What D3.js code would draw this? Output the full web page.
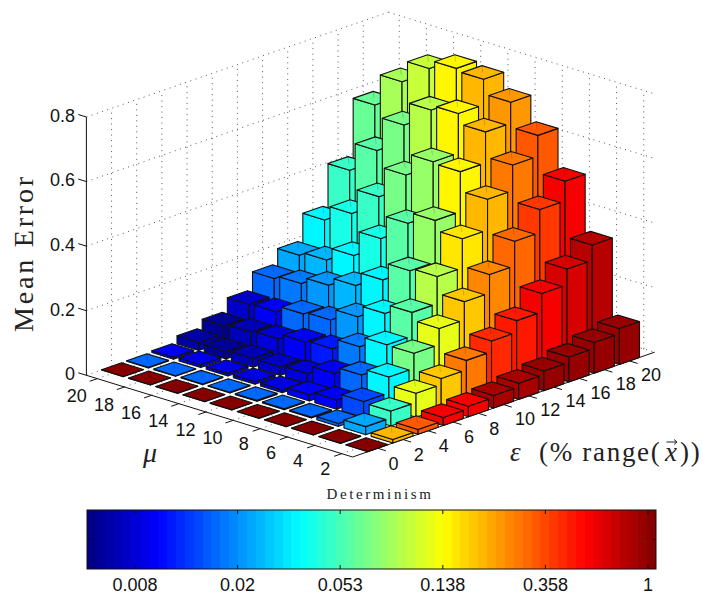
<!DOCTYPE html>
<html>
<head>
<meta charset="utf-8">
<script src="https://cdn.jsdelivr.net/npm/d3@7"></script>
<style>
  html, body { margin: 0; padding: 0; background: #fff; }
  svg { display: block; }
</style>
</head>
<body>
<svg></svg>
<script>
const epsTicks = [0, 2, 4, 6, 8, 10, 12, 14, 16, 18, 20];
const muTicks = [2, 4, 6, 8, 10, 12, 14, 16, 18, 20];
const errorTicks = [0, 0.2, 0.4, 0.6, 0.8];
const colorTicks = [0.008, 0.02, 0.053, 0.138, 0.358, 1];

// one row per mu (2 to 20), one column per eps (0 to 20)
const meanError = [
  [0.001, 0.011, 0.015, 0.025, 0.033, 0.039, 0.050, 0.061, 0.077, 0.095, 0.111],
  [0.001, 0.025, 0.046, 0.074, 0.093, 0.122, 0.155, 0.191, 0.248, 0.297, 0.344],
  [0.001, 0.009, 0.050, 0.099, 0.145, 0.195, 0.251, 0.308, 0.384, 0.455, 0.516],
  [0.001, 0.003, 0.029, 0.079, 0.146, 0.219, 0.303, 0.393, 0.488, 0.567, 0.632],
  [0.001, 0.003, 0.019, 0.058, 0.114, 0.190, 0.295, 0.424, 0.548, 0.644, 0.709],
  [0.001, 0.003, 0.009, 0.032, 0.082, 0.154, 0.241, 0.389, 0.553, 0.675, 0.754],
  [0.001, 0.002, 0.008, 0.027, 0.077, 0.118, 0.198, 0.316, 0.486, 0.660, 0.762],
  [0.001, 0.002, 0.008, 0.027, 0.061, 0.111, 0.173, 0.238, 0.393, 0.588, 0.736],
  [0.001, 0.002, 0.009, 0.022, 0.056, 0.092, 0.152, 0.198, 0.315, 0.483, 0.669],
  [0.001, 0.002, 0.006, 0.025, 0.049, 0.089, 0.142, 0.187, 0.269, 0.396, 0.571]
];

const determinism = [
  [1, 0.2178, 0.3621, 0.5564, 0.6, 0.8795, 0.89, 0.93, 0.96, 0.96, 0.98],
  [1, 0.0239, 0.0524, 0.1242, 0.196, 0.2842, 0.46, 0.4998, 0.6, 0.691, 0.7897],
  [1, 0.0166, 0.0149, 0.0379, 0.0705, 0.1242, 0.196, 0.27, 0.3252, 0.4254, 0.5564],
  [1, 0.0166, 0.0099, 0.0166, 0.035, 0.06, 0.1028, 0.1623, 0.2178, 0.2842, 0.3621],
  [1, 0.0166, 0.0092, 0.0099, 0.0184, 0.035, 0.06, 0.0829, 0.1459, 0.2178, 0.2558],
  [1, 0.0166, 0.0087, 0.008, 0.0116, 0.0216, 0.035, 0.06, 0.0829, 0.1459, 0.2178],
  [1, 0.0166, 0.0087, 0.0076, 0.0092, 0.0166, 0.0267, 0.0446, 0.0705, 0.1028, 0.1459],
  [1, 0.0166, 0.0085, 0.007, 0.008, 0.0166, 0.0216, 0.035, 0.0524, 0.0705, 0.1085],
  [1, 0.0166, 0.0085, 0.006, 0.007, 0.0099, 0.0184, 0.0267, 0.0446, 0.06, 0.0925],
  [1, 0.0166, 0.0092, 0.0063, 0.0057, 0.0076, 0.0166, 0.0239, 0.0379, 0.0524, 0.0665]
];

const width = 702;
const height = 594;
const levels = 64;
const barHalf = 0.8; // half a bar, in eps / mu units

const svg = d3.select("svg").attr("width", width).attr("height", height);

// floor corners of the box on screen
const front = { x: 352.6, y: 457 };
const right = { x: 654.6, y: 352.2 };
const left = { x: 86.4, y: 375.3 };

const epsScale = d3.scaleLinear().domain([-2, 22]).range([0, 1]);
const muScale = d3.scaleLinear().domain([1.2, 20.8]).range([0, 1]);
const zScale = d3.scaleLinear().domain([0, 0.8]).range([0, 258.3]);

const project = (eps, mu, z) => {
  const a = epsScale(eps);
  const b = muScale(mu);
  return [
    front.x + a * (right.x - front.x) + b * (left.x - front.x),
    front.y + a * (right.y - front.y) + b * (left.y - front.y) - zScale(z)
  ];
};

const [epsMin, epsMax] = epsScale.domain();
const [muMin, muMax] = muScale.domain();
const [zMin, zMax] = zScale.domain();

const jet = (x) => {
  const c = (v) => Math.round(255 * Math.max(0, Math.min(1, v)));
  const r = Math.min(4 * x - 1.5, -4 * x + 4.5);
  const g = Math.min(4 * x - 0.5, -4 * x + 3.5);
  const b = Math.min(4 * x + 0.5, -4 * x + 2.5);
  return `rgb(${c(r)},${c(g)},${c(b)})`;
};

const colorPos = d3.scaleLog().domain([0.00509, 1.08]).range([0, 1]).clamp(true);
const colorOf = (d) => {
  const level = Math.min(levels - 1, Math.floor(colorPos(d) * levels));
  return jet((level + 0.5) / levels);
};

const line = d3.line();

// grid on the two back walls and the floor
const gridLines = [];
errorTicks.forEach((z) => {
  gridLines.push([project(epsMin, muMax, z), project(epsMax, muMax, z)]);
  gridLines.push([project(epsMax, muMax, z), project(epsMax, muMin, z)]);
});
epsTicks.forEach((e) => {
  gridLines.push([project(e, muMax, zMin), project(e, muMax, zMax)]);
  gridLines.push([project(e, muMin, zMin), project(e, muMax, zMin)]);
});
muTicks.forEach((m) => {
  gridLines.push([project(epsMax, m, zMin), project(epsMax, m, zMax)]);
  gridLines.push([project(epsMin, m, zMin), project(epsMax, m, zMin)]);
});

svg.append("g").selectAll("path").data(gridLines).join("path")
  .attr("d", (d) => line(d))
  .attr("fill", "none")
  .attr("stroke", "#555")
  .attr("stroke-width", 1)
  .attr("stroke-dasharray", "1,4.5");

// axes
const axisColor = "#111";
const axisLines = [
  [project(epsMin, muMax, zMin), project(epsMin, muMax, zMax)],
  [project(epsMin, muMax, zMin), project(epsMin, muMin, zMin)],
  [project(epsMin, muMin, zMin), project(epsMax, muMin, zMin)]
];
const tickStep = 0.3;
errorTicks.forEach((z) => {
  axisLines.push([project(epsMin, muMax, z), project(epsMin, muMax + 2 * tickStep, z)]);
});
muTicks.forEach((m) => {
  axisLines.push([project(epsMin, m, zMin), project(epsMin - 2 * tickStep, m, zMin)]);
});
epsTicks.forEach((e) => {
  axisLines.push([project(e, muMin, zMin), project(e, muMin - 2 * tickStep, zMin)]);
});

svg.append("g").selectAll("path").data(axisLines).join("path")
  .attr("d", (d) => line(d))
  .attr("fill", "none")
  .attr("stroke", axisColor)
  .attr("stroke-width", 1);

// bars, far ones first
const bars = [];
muTicks.forEach((mu, i) => {
  epsTicks.forEach((eps, j) => {
    bars.push({ eps, mu, z: meanError[i][j], det: determinism[i][j] });
  });
});
bars.sort((a, b) => d3.descending(a.eps, b.eps) || d3.descending(a.mu, b.mu));

const barGroups = svg.append("g").selectAll("g").data(bars).join("g");

const barFaces = (d) => {
  const e0 = d.eps - barHalf, e1 = d.eps + barHalf;
  const m0 = d.mu - barHalf, m1 = d.mu + barHalf;
  return [
    [project(e0, m1, 0), project(e0, m0, 0), project(e0, m0, d.z), project(e0, m1, d.z)],
    [project(e0, m0, 0), project(e1, m0, 0), project(e1, m0, d.z), project(e0, m0, d.z)],
    [project(e0, m0, d.z), project(e1, m0, d.z), project(e1, m1, d.z), project(e0, m1, d.z)]
  ];
};

barGroups.selectAll("path.face").data((d) => barFaces(d).map((pts) => ({ pts, det: d.det }))).join("path")
  .attr("class", "face")
  .attr("d", (d) => line(d.pts) + "Z")
  .attr("fill", (d) => colorOf(d.det))
  .attr("stroke", "#111")
  .attr("stroke-width", 1.1)
  .attr("stroke-linejoin", "round");

// the faint seam on each top face
barGroups.append("path")
  .attr("d", (d) => line([project(d.eps + barHalf, d.mu + barHalf, d.z), project(d.eps, d.mu, d.z)]))
  .attr("stroke", "#000")
  .attr("stroke-opacity", 0.18)
  .attr("stroke-width", 1);

// tick labels
const sans = "'Liberation Sans', Arial, sans-serif";
const serif = "'Liberation Serif', 'DejaVu Serif', serif";

svg.append("g").selectAll("text").data(errorTicks).join("text")
  .attr("x", 75)
  .attr("y", (d) => project(epsMin, muMax, d)[1] - 1.5)
  .attr("dy", "0.35em")
  .attr("text-anchor", "end")
  .attr("font-family", sans)
  .attr("font-size", 18)
  .attr("fill", "#111")
  .text((d) => d);

svg.append("g").selectAll("text").data(muTicks).join("text")
  .attr("x", (d) => project(epsMin, d, 0)[0] + (d >= 10 ? -20.5 : -16.5))
  .attr("y", (d) => project(epsMin, d, 0)[1] + (d >= 10 ? 17.5 : 15.5))
  .attr("dy", "0.35em")
  .attr("text-anchor", "middle")
  .attr("font-family", sans)
  .attr("font-size", 18)
  .attr("fill", "#111")
  .text((d) => d);

svg.append("g").selectAll("text").data(epsTicks).join("text")
  .attr("x", (d) => project(d, muMin, 0)[0] + (d >= 10 ? 21.5 : 15.7))
  .attr("y", (d) => project(d, muMin, 0)[1] + (d >= 10 ? 14 : 15))
  .attr("dy", "0.35em")
  .attr("text-anchor", "middle")
  .attr("font-family", sans)
  .attr("font-size", 18)
  .attr("fill", "#111")
  .text((d) => d);

// axis titles
svg.append("text")
  .attr("transform", "translate(33,253) rotate(-90)")
  .attr("text-anchor", "middle")
  .attr("font-family", serif)
  .attr("font-size", 28)
  .attr("letter-spacing", 2.8)
  .attr("fill", "#222")
  .text("Mean Error");

svg.append("text")
  .attr("x", 150)
  .attr("y", 462)
  .attr("text-anchor", "middle")
  .attr("font-family", serif)
  .attr("font-style", "italic")
  .attr("font-size", 28)
  .attr("fill", "#222")
  .text("\u03bc");

const epsLabel = svg.append("g").attr("font-family", serif).attr("fill", "#222").attr("font-size", 27);
epsLabel.append("text").attr("x", 510).attr("y", 461).attr("font-style", "italic").text("\u03b5");
epsLabel.append("text").attr("x", 539).attr("y", 461).attr("letter-spacing", 1.7).text("(% range(");
epsLabel.append("text").attr("x", 665).attr("y", 461).attr("font-style", "italic").text("x");
epsLabel.append("text").attr("x", 680).attr("y", 461).attr("letter-spacing", 1.7).text("))");

// the vector arrow over the x
epsLabel.append("path")
  .attr("d", "M666.5,442H677M674,439.5L677,442L674,444.5")
  .attr("fill", "none")
  .attr("stroke", "#222")
  .attr("stroke-width", 1);

// colorbar
const barBox = { left: 87, right: 656, top: 510, bottom: 569 };
const colorX = d3.scalePoint().domain(colorTicks).range([135, 648]);
const levelX = d3.scaleBand().domain(d3.range(levels)).range([barBox.left, barBox.right]);

svg.append("g").attr("shape-rendering", "crispEdges").selectAll("rect").data(d3.range(levels)).join("rect")
  .attr("x", (d) => levelX(d))
  .attr("y", barBox.top)
  .attr("width", levelX.bandwidth() + 0.4)
  .attr("height", barBox.bottom - barBox.top)
  .attr("fill", (d) => jet((d + 0.5) / levels));

svg.append("rect")
  .attr("x", barBox.left)
  .attr("y", barBox.top)
  .attr("width", barBox.right - barBox.left)
  .attr("height", barBox.bottom - barBox.top)
  .attr("fill", "none")
  .attr("stroke", "#111")
  .attr("stroke-width", 1);

const barTicks = svg.append("g").attr("stroke", "#111").attr("stroke-width", 1);
colorTicks.forEach((t) => {
  barTicks.append("line").attr("x1", colorX(t)).attr("x2", colorX(t)).attr("y1", barBox.top).attr("y2", barBox.top + 4);
  barTicks.append("line").attr("x1", colorX(t)).attr("x2", colorX(t)).attr("y1", barBox.bottom).attr("y2", barBox.bottom - 4);
});
const barMid = (barBox.top + barBox.bottom) / 2;
barTicks.append("line").attr("x1", barBox.left).attr("x2", barBox.left + 4).attr("y1", barMid).attr("y2", barMid);
barTicks.append("line").attr("x1", barBox.right).attr("x2", barBox.right - 4).attr("y1", barMid).attr("y2", barMid);

svg.append("g").selectAll("text").data(colorTicks).join("text")
  .attr("x", (d) => colorX(d))
  .attr("y", 585)
  .attr("dy", "0.35em")
  .attr("text-anchor", "middle")
  .attr("font-family", sans)
  .attr("font-size", 18)
  .attr("fill", "#111")
  .text((d) => d);

svg.append("text")
  .attr("x", 380)
  .attr("y", 499)
  .attr("text-anchor", "middle")
  .attr("font-family", serif)
  .attr("font-size", 15)
  .attr("letter-spacing", 2.6)
  .attr("fill", "#222")
  .text("Determinism");
</script>
</body>
</html>
